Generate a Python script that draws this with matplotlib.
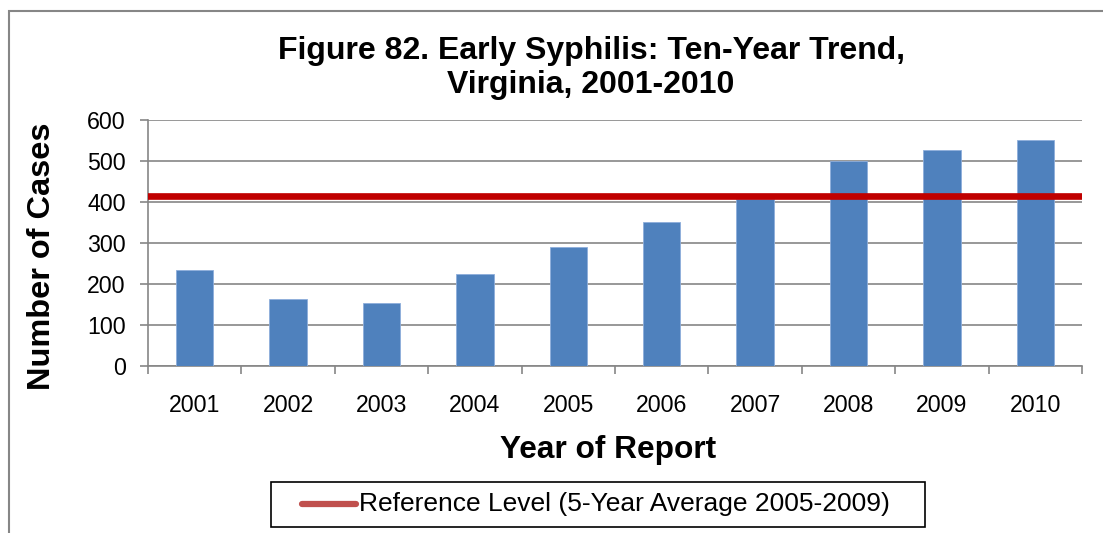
"""
Early syphilis cases by year, Virginia 2001-2010, with 5-year reference level.
"""
import matplotlib
matplotlib.use("Agg")
import matplotlib.pyplot as plt
from matplotlib.lines import Line2D
from matplotlib.patches import Rectangle

YEARS = ["2001", "2002", "2003", "2004", "2005",
         "2006", "2007", "2008", "2009", "2010"]
CASES = [233, 163, 154, 224, 290, 350, 407, 499, 528, 552]
REF_LEVEL = 415
REF_LABEL = "Reference Level (5-Year Average 2005-2009)"

BAR_COLOR    = "#4F81BD"
LINE_COLOR   = "#C00000"
LEGEND_COLOR = "#C0504D"
GRID_COLOR   = "#868686"

W, H = 1103, 533

plt.rcParams["font.family"] = ["Liberation Sans", "DejaVu Sans"]

fig = plt.figure(figsize=(W / 100, H / 100), dpi=100)
fig.patch.set_facecolor("white")
ax = fig.add_axes([148 / W, 1 - 366 / H, 934 / W, 246 / H])

x = list(range(1, len(YEARS) + 1))
ax.bar(x, CASES, width=0.4, color=BAR_COLOR, edgecolor="#8eaedb",
       linewidth=0.6, zorder=3)
ax.axhline(REF_LEVEL, color=LINE_COLOR, linewidth=4.8, zorder=4)

ax.set_xlim(0.5, len(YEARS) + 0.5)
ax.set_ylim(0, 600)
ax.set_yticks(range(0, 601, 100))
ax.yaxis.grid(True, color=GRID_COLOR, linewidth=1.2, zorder=0)
ax.set_axisbelow(True)

ax.set_xticks(x)
ax.set_xticklabels(YEARS, fontsize=16.7)
ax.set_xticks([i + 0.5 for i in range(len(YEARS) + 1)], minor=True)
ax.tick_params(axis="x", which="major", length=0, pad=20)
ax.tick_params(axis="x", which="minor", length=6, width=1.2, color=GRID_COLOR)
ax.tick_params(axis="y", length=6, width=1.2, color=GRID_COLOR,
               labelsize=16.7, pad=10)

for side in ("top", "right"):
    ax.spines[side].set_visible(False)
for side in ("left", "bottom"):
    ax.spines[side].set_color(GRID_COLOR)
    ax.spines[side].set_linewidth(1.2)

fig.text(42 / W, 1 - 256 / H, "Number of Cases", rotation=90,
         ha="center", va="center", fontsize=23.4, fontweight="bold")
fig.text(608 / W, 1 - 450 / H, "Year of Report",
         ha="center", va="center", fontsize=22.8, fontweight="bold")
fig.text(591 / W, 1 - 68 / H,
         "Figure 82. Early Syphilis: Ten-Year Trend,\nVirginia, 2001-2010",
         ha="center", va="center", fontsize=23, fontweight="bold",
         linespacing=1.15)

# ── legend box, drawn by hand to get Excel-like padding ──────────────
fig.add_artist(Rectangle((271 / W, 1 - 527 / H), 654 / W, 45 / H,
                         transform=fig.transFigure, facecolor="white",
                         edgecolor="black", linewidth=1.2, zorder=5))
fig.add_artist(Line2D([302 / W, 356 / W], [1 - 504 / H, 1 - 504 / H],
                      transform=fig.transFigure, color=LEGEND_COLOR,
                      linewidth=4.5, solid_capstyle="round", zorder=6))
fig.text(359 / W, 1 - 504 / H, REF_LABEL, ha="left", va="center",
         fontsize=19, zorder=6)

# outer chart border (cropped on the right and bottom)
fig.add_artist(Rectangle((9 / W, -0.2), 1.2, 1.2 - 11 / H,
                         transform=fig.transFigure, fill=False,
                         edgecolor=GRID_COLOR, linewidth=1.5, zorder=10))

fig.savefig("out.png", dpi=100, facecolor="white")
